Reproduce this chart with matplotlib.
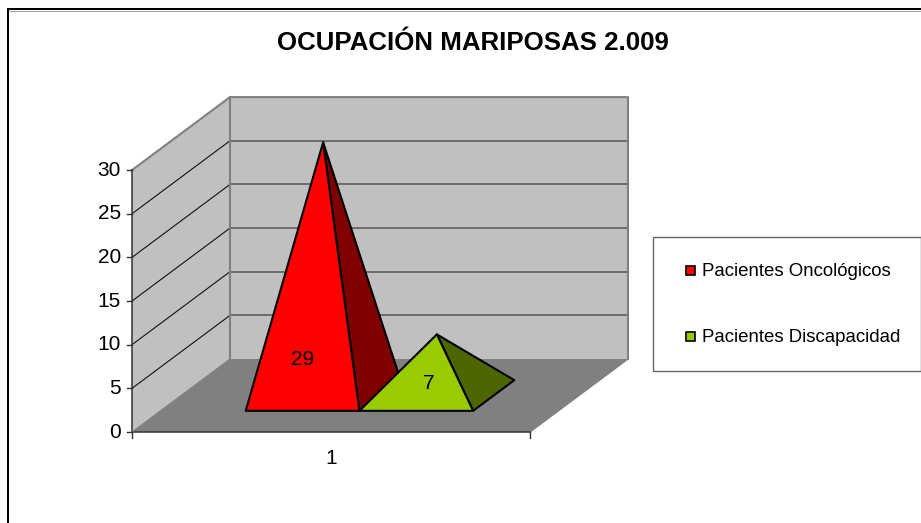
import matplotlib
matplotlib.use('Agg')
import matplotlib.pyplot as plt
from matplotlib.patches import Polygon, Rectangle

# datos
title = 'OCUPACIÓN MARIPOSAS 2.009'
series = ['Pacientes Oncológicos', 'Pacientes Discapacidad']
values = [29, 7]
category = '1'
yticks = [0, 5, 10, 15, 20, 25, 30]

front_cols = ['#FF0000', '#99CC00']
side_cols = ['#800000', '#4D6600']

plt.rcParams['font.family'] = ['Liberation Sans', 'DejaVu Sans']

W, H = 921, 523
fig = plt.figure(figsize=(W / 100, H / 100), dpi=100)
# ejes en pixeles, y hacia abajo
bg = fig.add_axes([0, 0, 1, 1])
bg.set_xlim(0, W)
bg.set_ylim(H, 0)
bg.axis('off')

x0, y0 = 132, 432       # esquina frontal izquierda
cat_w = 398             # ancho de la categoria
dx, dy = 98, -73        # desplazamiento de la profundidad
unit = 8.73             # pixeles por unidad de y
ymax = yticks[-1]
bar_w = 1 / 3.5
gap = 0.75 * bar_w
d0, d1 = 0.29, 0.71     # profundidad de la base
# donde caen las etiquetas de datos respecto a la base frontal (px)
label_dx = [0, 12]
label_up = [51, 27]


def proj(x, v, d=0.0):
    # x en fraccion de categoria, v en unidades de y, d profundidad 0-1
    return (x0 + x * cat_w + d * dx, y0 - v * unit + d * dy)


# marco exterior, sin borde derecho ni inferior
bg.plot([6.5, 6.5], [H, 8], color='#A0A0A0', lw=0.7, solid_capstyle='butt')
bg.plot([9, W], [10.5, 10.5], color='#A0A0A0', lw=0.7, solid_capstyle='butt')
bg.plot([8, 8, W], [H, 9, 9], color='black', lw=1.45, solid_capstyle='butt', solid_joinstyle='miter')

# paredes y suelo
bg.add_patch(Polygon([proj(0, 0), proj(0, ymax), proj(0, ymax, 1), proj(0, 0, 1)],
                     fc='#C0C0C0', ec='none', zorder=1))
bg.add_patch(Polygon([proj(0, 0, 1), proj(0, ymax, 1), proj(1, ymax, 1), proj(1, 0, 1)],
                     fc='#C0C0C0', ec='none', zorder=1))
bg.add_patch(Polygon([proj(0, 0), proj(1, 0), proj(1, 0, 1), proj(0, 0, 1)],
                     fc='#808080', ec='none', zorder=1))

# rejilla
for t in yticks[1:-1]:
    a, b, c = proj(0, t), proj(0, t, 1), proj(1, t, 1)
    bg.plot([a[0], b[0]], [a[1], b[1]], color='#111111', lw=0.8, zorder=2)
    bg.plot([b[0], c[0]], [b[1], c[1]], color='#555555', lw=1.1, zorder=2)

# contorno gris de las paredes
pts = [proj(0, ymax), proj(0, ymax, 1), proj(1, ymax, 1), proj(1, 0, 1)]
bg.plot([p[0] for p in pts], [p[1] for p in pts], color='#808080', lw=1.5, zorder=2)
a, b = proj(0, ymax, 1), proj(0, 0, 1)
bg.plot([a[0], b[0]], [a[1], b[1]], color='#808080', lw=1.5, zorder=2)
a, b = proj(1, 0), proj(1, 0, 1)
bg.plot([a[0], b[0]], [a[1], b[1]], color='#808080', lw=1.0, zorder=2)

# ejes
a, b = proj(0, 0), proj(0, ymax)
bg.plot([a[0], b[0]], [a[1], b[1]], color='#333333', lw=1.1, zorder=3)
a, b = proj(0, 0), proj(1, 0)
bg.plot([a[0], b[0]], [a[1], b[1]], color='#333333', lw=1.1, zorder=3)
a, b = proj(0, 0), proj(0, 0, 1)
bg.plot([a[0], b[0]], [a[1], b[1]], color='#808080', lw=0.8, zorder=3)
for t in yticks:
    a = proj(0, t)
    bg.plot([a[0] - 5, a[0]], [a[1], a[1]], color='#333333', lw=1.0, zorder=3)
    bg.text(a[0] - 11, a[1], str(t), ha='right', va='center', fontsize=15, color='black')
for x in [0, 1]:
    a = proj(x, 0)
    bg.plot([a[0], a[0]], [a[1], a[1] + 6], color='#333333', lw=1.0, zorder=3)
a = proj(0.5, 0)
bg.text(a[0], a[1] + 27, category, ha='center', va='center', fontsize=15)

# piramides
for i, v in enumerate(values):
    xl = gap + i * bar_w
    xr = xl + bar_w
    xc = (xl + xr) / 2
    dc = (d0 + d1) / 2
    apex = proj(xc, v, dc)
    z = 5 + i
    bg.add_patch(Polygon([proj(xr, 0, d0), proj(xr, 0, d1), apex], fc=side_cols[i],
                         ec='black', lw=1.5, joinstyle='round', zorder=z))
    bg.add_patch(Polygon([proj(xl, 0, d0), proj(xr, 0, d0), apex], fc=front_cols[i],
                         ec='black', lw=1.5, joinstyle='round', zorder=z))
    lab = proj(xc, 0, d0)
    bg.text(lab[0] + label_dx[i], lab[1] - label_up[i], str(v), ha='center', va='center',
            fontsize=15, zorder=10)

# titulo
bg.text(473, 43, title, ha='center', va='center', fontsize=18.6, fontweight='bold')

# leyenda
bg.add_patch(Rectangle((653, 237), 268, 134, fc='white', ec='#666666', lw=1.0, zorder=2))
for i, name in enumerate(series):
    yy = 270 + i * 66
    bg.add_patch(Rectangle((685.5, yy - 4.5), 9, 9, fc=front_cols[i], ec='black', lw=1.2, zorder=3))
    bg.text(702, yy + 2, name, ha='left', va='center', fontsize=13.4, zorder=3)

fig.savefig('out.png', dpi=100)
